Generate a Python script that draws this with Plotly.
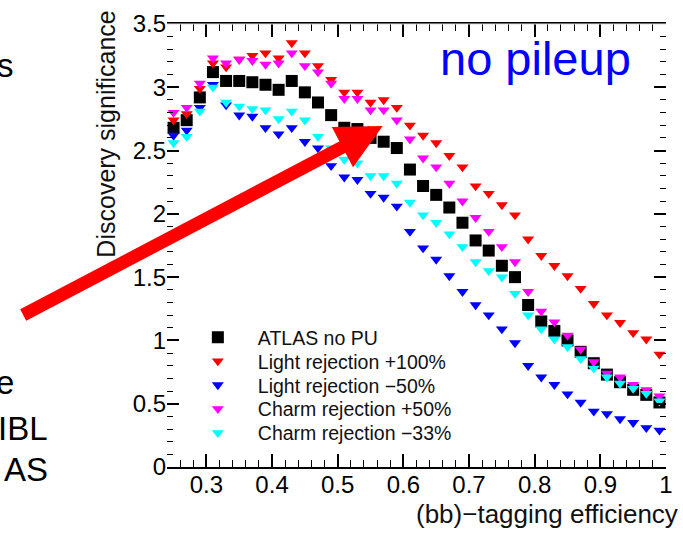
import plotly.graph_objects as go

# b-tagging efficiency (x) and discovery significance for each scenario
eff = [0.25, 0.27, 0.29, 0.31, 0.33, 0.35, 0.37, 0.39, 0.41, 0.43,
       0.45, 0.47, 0.49, 0.51, 0.53, 0.55, 0.57, 0.59, 0.61, 0.63,
       0.65, 0.67, 0.69, 0.71, 0.73, 0.75, 0.77, 0.79, 0.81, 0.83,
       0.85, 0.87, 0.89, 0.91, 0.93, 0.95, 0.97, 0.99]

atlas_no_pu = [2.68, 2.74, 2.92, 3.12, 3.05, 3.05, 3.04, 3.02, 2.98, 3.05,
               2.96, 2.88, 2.78, 2.68, 2.67, 2.60, 2.57, 2.52, 2.35, 2.22,
               2.15, 2.05, 1.93, 1.79, 1.71, 1.59, 1.50, 1.28, 1.15, 1.075,
               1.00, 0.91, 0.82, 0.73, 0.67, 0.61, 0.57, 0.51]

light_plus100 = [2.74, 2.79, 2.99, 3.19, 3.16, 3.22, 3.25, 3.27, 3.23, 3.35,
                 3.27, 3.17, 3.06, 2.96, 2.96, 2.88, 2.90, 2.84, 2.70, 2.62,
                 2.56, 2.46, 2.37, 2.22, 2.16, 2.07, 1.99, 1.80, 1.67, 1.59,
                 1.51, 1.41, 1.29, 1.20, 1.14, 1.06, 1.01, 0.89]

light_minus50 = [2.62, 2.66, 2.84, 3.02, 2.86, 2.78, 2.77, 2.68, 2.63, 2.68,
                 2.57, 2.52, 2.38, 2.29, 2.27, 2.16, 2.13, 2.06, 1.86, 1.73,
                 1.64, 1.51, 1.385, 1.28, 1.20, 1.09, 0.98, 0.80, 0.71, 0.65,
                 0.576, 0.51, 0.44, 0.42, 0.38, 0.35, 0.31, 0.29]

charm_plus50 = [2.80, 2.84, 3.03, 3.23, 3.19, 3.22, 3.21, 3.18, 3.19, 3.27,
                3.17, 3.12, 3.03, 2.91, 2.91, 2.82, 2.82, 2.74, 2.59, 2.44,
                2.37, 2.24, 2.10, 1.97, 1.86, 1.74, 1.62, 1.385, 1.23, 1.145,
                1.04, 0.93, 0.83, 0.74, 0.71, 0.65, 0.61, 0.56]

charm_minus33 = [2.56, 2.61, 2.81, 3.00, 2.88, 2.85, 2.83, 2.82, 2.75, 2.81,
                 2.74, 2.61, 2.52, 2.43, 2.40, 2.30, 2.30, 2.24, 2.09, 1.99,
                 1.93, 1.84, 1.74, 1.62, 1.55, 1.50, 1.37, 1.20, 1.09, 1.01,
                 0.95, 0.855, 0.78, 0.71, 0.66, 0.62, 0.58, 0.52]

series = [
    ("ATLAS no PU", atlas_no_pu, "#000000", "square", 12),
    ("Light rejection +100%", light_plus100, "#ff0000", "triangle-down", 10.5),
    ("Light rejection \u221250%", light_minus50, "#0000ff", "triangle-down", 10.5),
    ("Charm rejection +50%", charm_plus50, "#ff00ff", "triangle-down", 10.5),
    ("Charm rejection \u221233%", charm_minus33, "#00ffff", "triangle-down", 10.5),
]

FONT = "Liberation Sans, Arial, Helvetica, sans-serif"

# plot-area geometry in pixels (used only to place legends/annotations)
L, R, T, B = 167, 10, 15, 66
W, H = 683, 533
PW, PH = W - L - R, H - T - B

fig = go.Figure()
legend_rows = [335.0, 359.3, 383.6, 408.0, 432.4]
layout_legends = {}
for k, (name, vals, col, sym, sz) in enumerate(series):
    lname = "legend" if k == 0 else "legend%d" % (k + 1)
    fig.add_trace(go.Scatter(
        x=eff, y=vals, mode="markers", name=name, legend=lname,
        marker=dict(symbol=sym, size=sz, color=col, line=dict(width=0)),
    ))
    layout_legends[lname] = dict(
        x=(178 - L) / PW, y=(H - B - legend_rows[k]) / PH,
        xanchor="left", yanchor="middle",
        bgcolor="rgba(0,0,0,0)", borderwidth=0, itemwidth=70,
        font=dict(family=FONT, size=19.5, color="#111111"),
        itemsizing="trace",
    )

fig.update_layout(
    width=W, height=H,
    margin=dict(l=L, r=R, t=T, b=B),
    paper_bgcolor="white", plot_bgcolor="white",
    font=dict(family=FONT, color="#000000"),
    showlegend=True,
    **layout_legends,
    xaxis=dict(
        range=[0.24, 1.0], tick0=0.3, dtick=0.1,
        showgrid=False, zeroline=False,
        showline=True, linecolor="#000000", linewidth=2,
        ticks="inside", ticklen=13, tickwidth=1.5, tickcolor="#000000",
        mirror="ticks", ticklabelstandoff=-5,
        minor=dict(dtick=0.02, ticks="inside", ticklen=7, tickwidth=1.2,
                   tickcolor="#000000", showgrid=False),
        tickfont=dict(family=FONT, size=24, color="#000000"),
    ),
    yaxis=dict(
        range=[0, 3.5], tick0=0, dtick=0.5,
        showgrid=False, zeroline=False,
        showline=False,
        ticks="inside", ticklen=12, tickwidth=1.5, tickcolor="#000000",
        mirror="ticks",
        minor=dict(dtick=0.1, ticks="inside", ticklen=6, tickwidth=1.2,
                   tickcolor="#000000", showgrid=False),
        tickfont=dict(family=FONT, size=24, color="#000000"),
    ),
)

# faint top frame line
fig.add_shape(type="line", xref="paper", yref="paper", x0=0, x1=1, y0=1, y1=1,
              line=dict(color="#dddddd", width=1))

# axis titles (ROOT style, right/top aligned)
fig.add_annotation(text="(bb)\u2212tagging efficiency", xref="paper", yref="paper",
                   x=(687 - L) / PW, y=-(515 - (H - B)) / PH, xanchor="right", yanchor="middle",
                   showarrow=False, font=dict(family=FONT, size=26, color="#111111"))
fig.add_annotation(text="Discovery significance", xref="paper", yref="paper",
                   x=(105 - L) / PW, y=(H - B - 127) / PH, xanchor="center", yanchor="middle",
                   textangle=-90, showarrow=False,
                   font=dict(family=FONT, size=25, color="#111111"))

# "no pileup" label
fig.add_annotation(text="no pileup", xref="paper", yref="paper",
                   x=(541 - L) / PW, y=(H - B - 50) / PH, xanchor="center", yanchor="middle",
                   showarrow=False, font=dict(family=FONT, size=47, color="#0000ff"))

# slide text fragments cut off at the left edge
for txt, ypx, xr in [("s", 57, 14), ("e", 381, 14), ("IBL", 428, 48), ("AS", 470, 48)]:
    fig.add_annotation(text=txt, xref="paper", yref="paper",
                       x=(xr - L) / PW, y=(H - B - ypx) / PH,
                       xanchor="right", yanchor="middle", showarrow=False,
                       font=dict(family=FONT, size=33, color="#000000"))

# big red arrow
fig.add_annotation(text="", x=0.5685, y=2.695, xref="x", yref="y",
                   ax=-361, ay=190, showarrow=True,
                   arrowcolor="#ff0000", arrowwidth=13, arrowhead=2, arrowsize=0.7)

fig.write_html("out.html",
               config={"displayModeBar": False},
               post_script="document.body.style.margin='0px';")
